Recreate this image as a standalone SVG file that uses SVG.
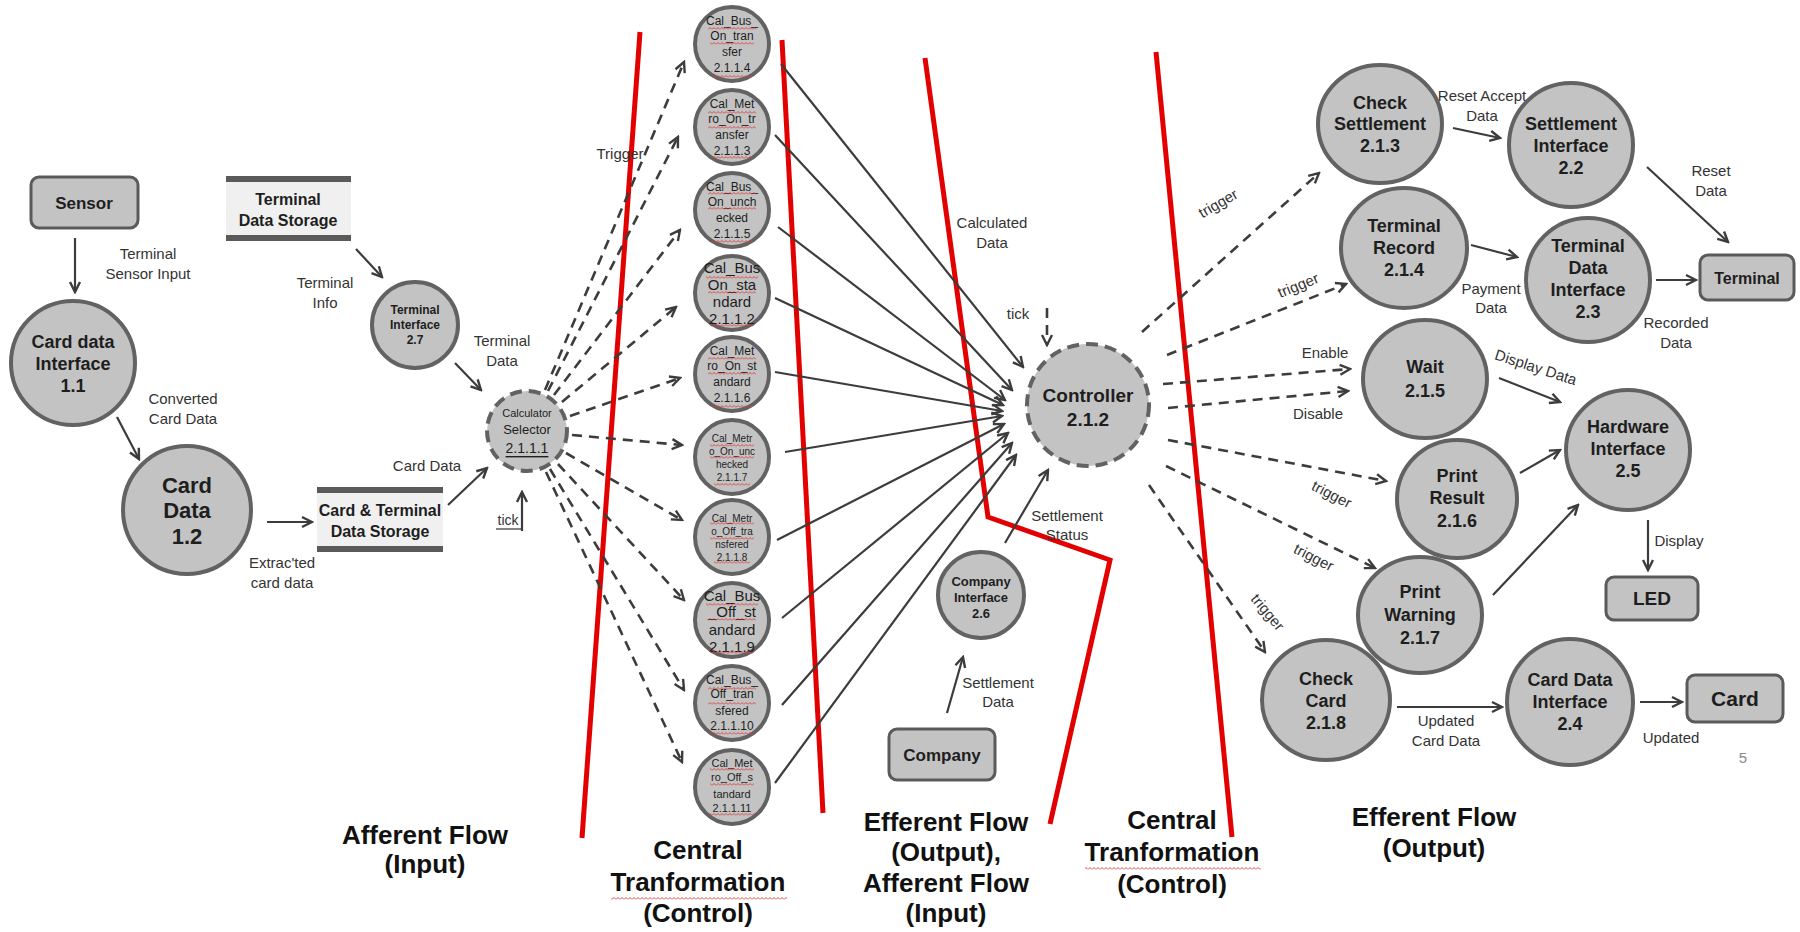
<svg xmlns="http://www.w3.org/2000/svg" width="1800" height="932" viewBox="0 0 1800 932">
<style>
text{font-family:"Liberation Sans",Arial,sans-serif;text-anchor:middle;dominant-baseline:central}
.nd{fill:#c3c3c3;stroke:#626262;stroke-width:4}
.dn{fill:#c3c3c3;stroke:#626262;stroke-width:4;stroke-dasharray:12 7}
.bx{fill:#c3c3c3;stroke:#5a5a5a;stroke-width:3}
.bar{fill:#5a5a5a}
.st{fill:#f0f0f0}
.t{font-weight:bold;fill:#1e1e1e}
.s{fill:#1e1e1e}
.l{font-size:15px;fill:#333}
.e{fill:none;stroke:#3c3c3c;stroke-width:2.2;marker-end:url(#ah)}
.d{fill:none;stroke:#3c3c3c;stroke-width:2.6;stroke-dasharray:10 7;marker-end:url(#ah)}
.r{fill:none;stroke:#e30000;stroke-width:5;stroke-linejoin:miter}
.b{font-weight:bold;font-size:26px;fill:#111}
</style>
<defs>
<marker id="ah" viewBox="0 0 14 14" refX="12" refY="7" markerWidth="14" markerHeight="14" markerUnits="userSpaceOnUse" orient="auto">
<path d="M2,2 L12,7 L2,12" fill="none" stroke="#3c3c3c" stroke-width="2.4"/>
</marker>
<pattern id="wv" width="4" height="3" patternUnits="userSpaceOnUse">
<path d="M0,2.5 L2,0.5 L4,2.5" fill="none" stroke="#e03a3a" stroke-width="0.9"/>
</pattern>
</defs>
<rect width="1800" height="932" fill="#ffffff"/>

<g id="boundaries">
<line class="r" x1="640" y1="32" x2="582" y2="838"/>
<line class="r" x1="782" y1="40" x2="823" y2="813"/>
<polyline class="r" points="925,58 988,517 1110,560 1050,824"/>
<line class="r" x1="1156" y1="52" x2="1232" y2="837"/>
</g>

<g id="connectors">
<line class="e" x1="75" y1="238" x2="75" y2="292"/>
<line class="e" x1="117" y1="417" x2="139" y2="459"/>
<line class="e" x1="267" y1="522" x2="312" y2="522"/>
<line class="e" x1="356" y1="249" x2="382" y2="277"/>
<line class="e" x1="455" y1="363" x2="481" y2="390"/>
<line class="e" x1="448" y1="505" x2="487" y2="468"/>
<line class="e" x1="522" y1="531" x2="522" y2="492"/>
<line class="d" x1="545" y1="390" x2="684" y2="62"/>
<line class="d" x1="548" y1="391" x2="678" y2="137"/>
<line class="d" x1="554" y1="395" x2="680" y2="230"/>
<line class="d" x1="562" y1="402" x2="676" y2="307"/>
<line class="d" x1="570" y1="416" x2="680" y2="378"/>
<line class="d" x1="572" y1="435" x2="682" y2="445"/>
<line class="d" x1="566" y1="453" x2="682" y2="520"/>
<line class="d" x1="558" y1="464" x2="684" y2="600"/>
<line class="d" x1="550" y1="469" x2="684" y2="690"/>
<line class="d" x1="546" y1="472" x2="682" y2="762"/>
<line class="e" x1="781" y1="64" x2="1023" y2="367"/>
<line class="e" x1="775" y1="135" x2="1012" y2="390"/>
<line class="e" x1="778" y1="227" x2="1005" y2="400"/>
<line class="e" x1="775" y1="298" x2="1003" y2="405"/>
<line class="e" x1="775" y1="372" x2="1002" y2="411"/>
<line class="e" x1="785" y1="452" x2="1002" y2="416"/>
<line class="e" x1="777" y1="540" x2="1004" y2="424"/>
<line class="e" x1="782" y1="618" x2="1008" y2="433"/>
<line class="e" x1="782" y1="705" x2="1012" y2="443"/>
<line class="e" x1="775" y1="783" x2="1016" y2="455"/>
<line class="d" x1="1047" y1="308" x2="1047" y2="345"/>
<line class="e" x1="1005" y1="543" x2="1048" y2="470"/>
<line class="e" x1="947" y1="713" x2="963" y2="657"/>
<line class="d" x1="1142" y1="332" x2="1319" y2="173"/>
<line class="d" x1="1167" y1="355" x2="1346" y2="284"/>
<line class="d" x1="1163" y1="384" x2="1350" y2="369"/>
<line class="d" x1="1168" y1="408" x2="1348" y2="391"/>
<line class="d" x1="1168" y1="440" x2="1386" y2="481"/>
<line class="d" x1="1166" y1="466" x2="1375" y2="568"/>
<line class="d" x1="1149" y1="485" x2="1265" y2="652"/>
<line class="e" x1="1453" y1="128" x2="1500" y2="138"/>
<line class="e" x1="1647" y1="167" x2="1728" y2="242"/>
<line class="e" x1="1471" y1="245" x2="1517" y2="257"/>
<line class="e" x1="1656" y1="280" x2="1696" y2="280"/>
<line class="e" x1="1499" y1="378" x2="1560" y2="402"/>
<line class="e" x1="1520" y1="473" x2="1560" y2="450"/>
<line class="e" x1="1493" y1="595" x2="1578" y2="505"/>
<line class="e" x1="1648" y1="520" x2="1648" y2="570"/>
<line class="e" x1="1397" y1="707" x2="1502" y2="707"/>
<line class="e" x1="1640" y1="702" x2="1682" y2="702"/>
</g>

<g id="edge-labels">
<text class="l" x="148" y="253">Terminal</text><text class="l" x="148" y="273">Sensor Input</text>
<text class="l" x="183" y="398">Converted</text><text class="l" x="183" y="418">Card Data</text>
<text class="l" x="282" y="562">Extrac'ted</text><text class="l" x="282" y="582">card data</text>
<text class="l" x="325" y="282">Terminal</text><text class="l" x="325" y="302">Info</text>
<text class="l" x="502" y="340">Terminal</text><text class="l" x="502" y="360">Data</text>
<text class="l" x="427" y="465">Card Data</text>
<text class="l" x="508" y="520" style="font-size:14px">tick</text>
<line x1="496" y1="529" x2="522" y2="529" stroke="#333" stroke-width="1.2"/>
<text class="l" x="620" y="153">Trigger</text>
<text class="l" x="992" y="222">Calculated</text><text class="l" x="992" y="242">Data</text>
<text class="l" x="1018" y="313">tick</text>
<text class="l" x="1067" y="515">Settlement</text><text class="l" x="1067" y="534">Status</text>
<text class="l" x="998" y="682">Settlement</text><text class="l" x="998" y="701">Data</text>
<text class="l" x="1218" y="203" transform="rotate(-30 1218 203)">trigger</text>
<text class="l" x="1298" y="285" transform="rotate(-22 1298 285)">trigger</text>
<text class="l" x="1325" y="352">Enable</text>
<text class="l" x="1318" y="413">Disable</text>
<text class="l" x="1332" y="494" transform="rotate(27 1332 494)">trigger</text>
<text class="l" x="1314" y="557" transform="rotate(27 1314 557)">trigger</text>
<text class="l" x="1268" y="612" transform="rotate(50 1268 612)">trigger</text>
<text class="l" x="1482" y="95">Reset Accept</text><text class="l" x="1482" y="115">Data</text>
<text class="l" x="1711" y="170">Reset</text><text class="l" x="1711" y="190">Data</text>
<text class="l" x="1491" y="288">Payment</text><text class="l" x="1491" y="307">Data</text>
<text class="l" x="1676" y="322">Recorded</text><text class="l" x="1676" y="342">Data</text>
<text class="l" x="1536" y="367" transform="rotate(18 1536 367)">Display Data</text>
<text class="l" x="1679" y="540">Display</text>
<text class="l" x="1446" y="720">Updated</text><text class="l" x="1446" y="740">Card Data</text>
<text class="l" x="1671" y="737">Updated</text>
<text class="l" x="1743" y="757" style="fill:#888">5</text>
</g>

<g id="sensor"><rect class="bx" x="31" y="177" width="107" height="51" rx="8"/><text class="t" x="84" y="203" font-size="17">Sensor</text></g>
<g id="terminal-data-storage"><rect class="st" x="226" y="181" width="125" height="55"/><rect class="bar" x="226" y="176" width="125" height="6"/><rect class="bar" x="226" y="235" width="125" height="6"/><text class="t" x="288" y="199" font-size="16">Terminal</text><text class="t" x="288" y="220" font-size="16">Data Storage</text></g>
<g id="card-data-interface-1-1"><circle class="nd" cx="73" cy="363" r="62"/><text class="t" x="73" y="342" font-size="18">Card data</text><text class="t" x="73" y="364" font-size="18">Interface</text><text class="t" x="73" y="386" font-size="18">1.1</text></g>
<g id="card-data-1-2"><circle class="nd" cx="187" cy="510" r="64"/><text class="t" x="187" y="485" font-size="22">Card</text><text class="t" x="187" y="510" font-size="22">Data</text><text class="t" x="187" y="536" font-size="22">1.2</text></g>
<g id="card-terminal-storage"><rect class="st" x="317" y="492" width="126" height="56"/><rect class="bar" x="317" y="487" width="126" height="6"/><rect class="bar" x="317" y="546" width="126" height="6"/><text class="t" x="380" y="510" font-size="16">Card &amp; Terminal</text><text class="t" x="380" y="531" font-size="16">Data Storage</text></g>
<g id="terminal-interface-2-7"><circle class="nd" cx="415" cy="325" r="43"/><text class="t" x="415" y="310" font-size="12">Terminal</text><text class="t" x="415" y="325" font-size="12">Interface</text><text class="t" x="415" y="340" font-size="12">2.7</text></g>
<g id="calculator-selector"><circle class="dn" cx="527" cy="431" r="40"/><text class="s" x="527" y="413" font-size="11">Calculator</text><text class="s" x="527" y="429" font-size="13">Selector</text><text class="s" x="527" y="448" font-size="14" text-decoration="underline">2.1.1.1</text></g>

<g id="cal-2-1-1-4"><circle class="nd" cx="732" cy="44" r="37"/><text class="s" font-size="12" x="732" y="21">Cal_Bus_</text><text class="s" font-size="12" x="732" y="36">On_tran</text><text class="s" font-size="12" x="732" y="52">sfer</text><text class="s" font-size="12" x="732" y="68">2.1.1.4</text><rect x="708" y="27" width="48" height="3" fill="url(#wv)"/><rect x="710" y="42" width="44" height="3" fill="url(#wv)"/><rect x="712" y="75" width="40" height="3" fill="url(#wv)"/></g>
<g id="cal-2-1-1-3"><circle class="nd" cx="732" cy="127" r="37"/><text class="s" font-size="12" x="732" y="104">Cal_Met</text><text class="s" font-size="12" x="732" y="119">ro_On_tr</text><text class="s" font-size="12" x="732" y="135">ansfer</text><text class="s" font-size="12" x="732" y="151">2.1.1.3</text><rect x="708" y="111" width="48" height="3" fill="url(#wv)"/><rect x="708" y="126" width="48" height="3" fill="url(#wv)"/><rect x="712" y="156" width="40" height="3" fill="url(#wv)"/></g>
<g id="cal-2-1-1-5"><circle class="nd" cx="732" cy="210" r="37"/><text class="s" font-size="12" x="732" y="187">Cal_Bus_</text><text class="s" font-size="12" x="732" y="202">On_unch</text><text class="s" font-size="12" x="732" y="218">ecked</text><text class="s" font-size="12" x="732" y="234">2.1.1.5</text><rect x="708" y="192" width="48" height="3" fill="url(#wv)"/><rect x="708" y="207" width="48" height="3" fill="url(#wv)"/><rect x="712" y="240" width="40" height="3" fill="url(#wv)"/></g>
<g id="cal-2-1-1-2"><circle class="nd" cx="732" cy="293" r="37"/><text class="s" font-size="15" x="732" y="267">Cal_Bus</text><text class="s" font-size="15" x="732" y="284">On_sta</text><text class="s" font-size="15" x="732" y="301">ndard</text><text class="s" font-size="15" x="732" y="318">2.1.1.2</text><rect x="706" y="276" width="52" height="3" fill="url(#wv)"/><rect x="708" y="291" width="48" height="3" fill="url(#wv)"/><rect x="710" y="324" width="44" height="3" fill="url(#wv)"/></g>
<g id="cal-2-1-1-6"><circle class="nd" cx="732" cy="374" r="37"/><text class="s" font-size="12" x="732" y="351">Cal_Met</text><text class="s" font-size="12" x="732" y="366">ro_On_st</text><text class="s" font-size="12" x="732" y="382">andard</text><text class="s" font-size="12" x="732" y="398">2.1.1.6</text><rect x="708" y="357" width="48" height="3" fill="url(#wv)"/><rect x="708" y="372" width="48" height="3" fill="url(#wv)"/><rect x="712" y="405" width="40" height="3" fill="url(#wv)"/></g>
<g id="cal-2-1-1-7"><circle class="nd" cx="732" cy="457" r="37"/><text class="s" font-size="10" x="732" y="438">Cal_Metr</text><text class="s" font-size="10" x="732" y="451">o_On_unc</text><text class="s" font-size="10" x="732" y="464">hecked</text><text class="s" font-size="10" x="732" y="477">2.1.1.7</text><rect x="710" y="444" width="44" height="3" fill="url(#wv)"/><rect x="710" y="456" width="44" height="3" fill="url(#wv)"/><rect x="714" y="483" width="36" height="3" fill="url(#wv)"/></g>
<g id="cal-2-1-1-8"><circle class="nd" cx="732" cy="537" r="37"/><text class="s" font-size="10" x="732" y="518">Cal_Metr</text><text class="s" font-size="10" x="732" y="531">o_Off_tra</text><text class="s" font-size="10" x="732" y="544">nsfered</text><text class="s" font-size="10" x="732" y="557">2.1.1.8</text><rect x="710" y="522" width="44" height="3" fill="url(#wv)"/><rect x="710" y="537" width="44" height="3" fill="url(#wv)"/><rect x="714" y="561" width="36" height="3" fill="url(#wv)"/></g>
<g id="cal-2-1-1-9"><circle class="nd" cx="732" cy="620" r="37"/><text class="s" font-size="15" x="732" y="595">Cal_Bus</text><text class="s" font-size="15" x="732" y="611">_Off_st</text><text class="s" font-size="15" x="732" y="629">andard</text><text class="s" font-size="15" x="732" y="646">2.1.1.9</text><rect x="706" y="603" width="52" height="3" fill="url(#wv)"/><rect x="708" y="618" width="48" height="3" fill="url(#wv)"/><rect x="710" y="651" width="44" height="3" fill="url(#wv)"/></g>
<g id="cal-2-1-1-10"><circle class="nd" cx="732" cy="703" r="37"/><text class="s" font-size="12" x="732" y="680">Cal_Bus_</text><text class="s" font-size="12" x="732" y="694">Off_tran</text><text class="s" font-size="12" x="732" y="711">sfered</text><text class="s" font-size="12" x="732" y="726">2.1.1.10</text><rect x="708" y="687" width="48" height="3" fill="url(#wv)"/><rect x="708" y="702" width="48" height="3" fill="url(#wv)"/><rect x="710" y="732" width="44" height="3" fill="url(#wv)"/></g>
<g id="cal-2-1-1-11"><circle class="nd" cx="732" cy="787" r="37"/><text class="s" font-size="11" x="732" y="763">Cal_Met</text><text class="s" font-size="11" x="732" y="777">ro_Off_s</text><text class="s" font-size="11" x="732" y="794">tandard</text><text class="s" font-size="11" x="732" y="808">2.1.1.11</text><rect x="710" y="768" width="44" height="3" fill="url(#wv)"/><rect x="710" y="783" width="44" height="3" fill="url(#wv)"/><rect x="710" y="813" width="44" height="3" fill="url(#wv)"/></g>

<g id="controller"><circle class="dn" cx="1088" cy="405" r="61"/><text class="t" x="1088" y="395" font-size="19">Controller</text><text class="t" x="1088" y="419" font-size="19">2.1.2</text></g>
<g id="company-interface-2-6"><circle class="nd" cx="981" cy="595" r="43"/><text class="t" x="981" y="581" font-size="13">Company</text><text class="t" x="981" y="597" font-size="13">Interface</text><text class="t" x="981" y="613" font-size="13">2.6</text></g>
<g id="company"><rect class="bx" x="889" y="729" width="106" height="51" rx="8"/><text class="t" x="942" y="755" font-size="17">Company</text></g>

<g id="check-settlement"><ellipse class="nd" cx="1380" cy="124" rx="62" ry="59"/><text class="t" x="1380" y="103" font-size="18">Check</text><text class="t" x="1380" y="124" font-size="18">Settlement</text><text class="t" x="1380" y="146" font-size="18">2.1.3</text></g>
<g id="settlement-interface"><ellipse class="nd" cx="1571" cy="145" rx="62" ry="62"/><text class="t" x="1571" y="124" font-size="18">Settlement</text><text class="t" x="1571" y="146" font-size="18">Interface</text><text class="t" x="1571" y="168" font-size="18">2.2</text></g>
<g id="terminal-record"><ellipse class="nd" cx="1404" cy="248" rx="63" ry="60"/><text class="t" x="1404" y="226" font-size="18">Terminal</text><text class="t" x="1404" y="248" font-size="18">Record</text><text class="t" x="1404" y="270" font-size="18">2.1.4</text></g>
<g id="terminal-data-interface"><ellipse class="nd" cx="1588" cy="280" rx="62" ry="62"/><text class="t" x="1588" y="246" font-size="18">Terminal</text><text class="t" x="1588" y="268" font-size="18">Data</text><text class="t" x="1588" y="290" font-size="18">Interface</text><text class="t" x="1588" y="312" font-size="18">2.3</text></g>
<g id="terminal"><rect class="bx" x="1700" y="255" width="94" height="45" rx="8"/><text class="t" x="1747" y="278" font-size="16">Terminal</text></g>
<g id="wait"><ellipse class="nd" cx="1425" cy="379" rx="62" ry="59"/><text class="t" x="1425" y="367" font-size="18">Wait</text><text class="t" x="1425" y="391" font-size="18">2.1.5</text></g>
<g id="hardware-interface"><ellipse class="nd" cx="1628" cy="450" rx="62" ry="60"/><text class="t" x="1628" y="427" font-size="18">Hardware</text><text class="t" x="1628" y="449" font-size="18">Interface</text><text class="t" x="1628" y="471" font-size="18">2.5</text></g>
<g id="print-result"><ellipse class="nd" cx="1457" cy="499" rx="60" ry="59"/><text class="t" x="1457" y="476" font-size="18">Print</text><text class="t" x="1457" y="498" font-size="18">Result</text><text class="t" x="1457" y="521" font-size="18">2.1.6</text></g>
<g id="print-warning"><ellipse class="nd" cx="1420" cy="615" rx="62" ry="58"/><text class="t" x="1420" y="592" font-size="18">Print</text><text class="t" x="1420" y="615" font-size="18">Warning</text><text class="t" x="1420" y="638" font-size="18">2.1.7</text></g>
<g id="led"><rect class="bx" x="1606" y="577" width="92" height="43" rx="8"/><text class="t" x="1652" y="598" font-size="19">LED</text></g>
<g id="check-card"><ellipse class="nd" cx="1326" cy="700" rx="64" ry="60"/><text class="t" x="1326" y="679" font-size="18">Check</text><text class="t" x="1326" y="701" font-size="18">Card</text><text class="t" x="1326" y="723" font-size="18">2.1.8</text></g>
<g id="card-data-interface-2-4"><ellipse class="nd" cx="1570" cy="702" rx="63" ry="63"/><text class="t" x="1570" y="680" font-size="18">Card Data</text><text class="t" x="1570" y="702" font-size="18">Interface</text><text class="t" x="1570" y="724" font-size="18">2.4</text></g>
<g id="card"><rect class="bx" x="1687" y="675" width="96" height="47" rx="8"/><text class="t" x="1735" y="698" font-size="21">Card</text></g>

<g id="region-labels">
<text class="b" x="425" y="835">Afferent Flow</text><text class="b" x="425" y="864">(Input)</text>
<text class="b" x="698" y="850">Central</text><text class="b" x="698" y="882">Tranformation</text><text class="b" x="698" y="913">(Control)</text>
<rect x="611" y="897" width="176" height="3" fill="url(#wv)"/>
<text class="b" x="946" y="822">Efferent Flow</text><text class="b" x="946" y="852">(Output),</text><text class="b" x="946" y="883">Afferent Flow</text><text class="b" x="946" y="913">(Input)</text>
<text class="b" x="1172" y="820">Central</text><text class="b" x="1172" y="852">Tranformation</text><text class="b" x="1172" y="884">(Control)</text>
<rect x="1085" y="867" width="176" height="3" fill="url(#wv)"/>
<text class="b" x="1434" y="817">Efferent Flow</text><text class="b" x="1434" y="848">(Output)</text>
</g>
</svg>
